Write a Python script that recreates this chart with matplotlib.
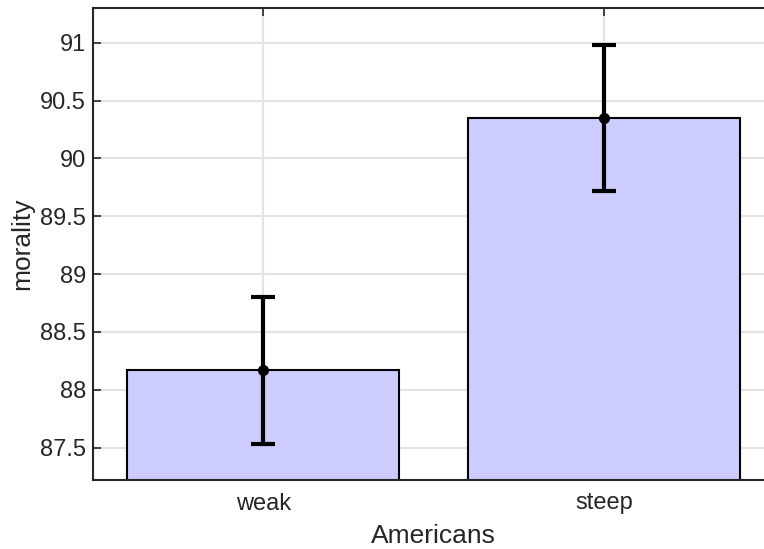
import matplotlib
matplotlib.use("Agg")
import matplotlib.pyplot as plt

# data
categories = ["weak", "steep"]
means      = [88.17, 90.35]
err_low    = [87.53, 89.72]
err_high   = [88.80, 90.98]
y_ticks    = [87.5, 88, 88.5, 89, 89.5, 90, 90.5, 91]
y_labels   = ["87.5", "88", "88.5", "89", "89.5", "90", "90.5", "91"]

plt.rcParams["font.family"] = ["Liberation Sans", "DejaVu Sans"]

fig = plt.figure(figsize=(7.64, 5.49), dpi=100)
# axes runs a bit past the right edge of the canvas, like the original
ax = fig.add_axes([93 / 764, 1 - 480 / 549, (774 - 93) / 764, (480 - 8) / 549])

x = [1, 2]
ax.bar(x, means, width=0.8, color="#ccccff", edgecolor="black", linewidth=1.5, zorder=2)
yerr = [[m - lo for m, lo in zip(means, err_low)],
        [hi - m for m, hi in zip(means, err_high)]]
ax.errorbar(x, means, yerr=yerr, fmt="o", color="black", markersize=7,
            elinewidth=3, capsize=8.6, capthick=3, zorder=3)

ax.set_xlim(0.5, 2.5)
ax.set_ylim(87.22, 91.30)
ax.set_xticks(x)
ax.set_xticklabels(categories)
ax.set_yticks(y_ticks)
ax.set_yticklabels(y_labels)

ax.grid(True, color="#e3e3e3", linewidth=1.5, zorder=0)
ax.set_axisbelow(True)
ax.tick_params(direction="in", top=True, right=True, length=6, width=1.2,
               colors="#262626", labelsize=17)
ax.tick_params(axis="x", pad=9)
ax.tick_params(axis="y", pad=5)
for s in ax.spines.values():
    s.set_color("#262626")
    s.set_linewidth(1.5)

ax.set_xlabel("Americans", fontsize=19, color="#262626", labelpad=7)
ax.set_ylabel("morality", fontsize=19, color="#262626", labelpad=4)

fig.savefig("out.png", dpi=100)
